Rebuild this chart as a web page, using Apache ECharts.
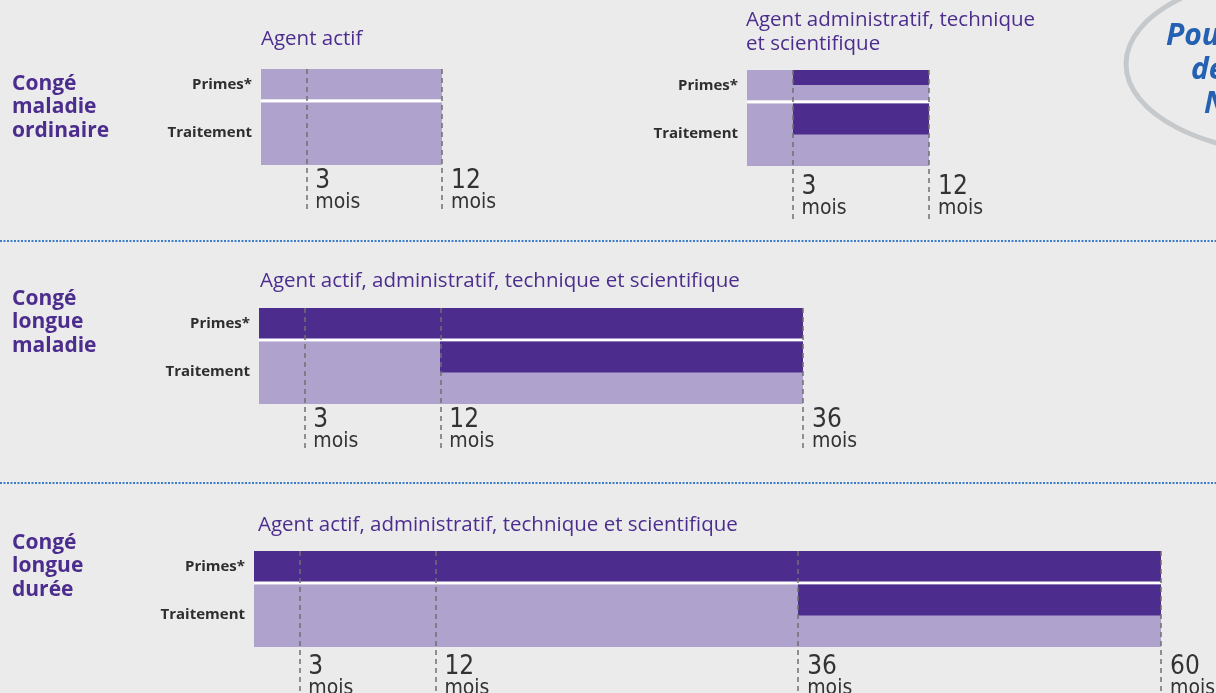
<!DOCTYPE html>
<html>
<head>
<meta charset="utf-8">
<script src="https://cdn.jsdelivr.net/npm/echarts@6/dist/echarts.min.js"></script>
<style>
  html, body { margin: 0; padding: 0; background: #ebebeb; }
  #chart { width: 1216px; height: 693px; }
</style>
</head>
<body>
<div id="chart"></div>
<script>
// Lignes de chaque bloc
const rowNames = ['Primes*', 'Traitement'];

// Segments : [ligne, début (mois), fin (mois), part foncée]
const cmoActifSegments = [[0, 0, 12, 0], [1, 0, 12, 0]];
const cmoAdminSegments = [[0, 0, 3, 0], [0, 3, 12, 0.5], [1, 0, 3, 0], [1, 3, 12, 0.5]];
const clmSegments = [[0, 0, 36, 1], [1, 0, 12, 0], [1, 12, 36, 0.5]];
const cldSegments = [[0, 0, 60, 1], [1, 0, 36, 0], [1, 36, 60, 0.5]];

// Graduations (mois)
const cmoTicks = [3, 12];
const clmTicks = [3, 12, 36];
const cldTicks = [3, 12, 36, 60];

// Durées maximales
const cmoMax = 12, clmMax = 36, cldMax = 60;

const PURPLE = '#4c2d8e';
const LIGHT = '#afa2cd';
const TEXT = '#2e2e2e';
const BG = '#ebebeb';
const NARROW = "'Liberation Sans Narrow', 'DejaVu Sans Condensed', sans-serif";

// hauteur des lignes en unités de l'axe y (primes 0-1, traitement 1-3)
const ROW_SPAN = [[0, 1], [1, 3]];
const UNIT = 32;   // px par unité
const GAP = 3;

const panels = [
  { grid: { left: 261, top: 69, width: 181, height: 144 }, max: cmoMax, ticks: cmoTicks, data: cmoActifSegments },
  { grid: { left: 747, top: 70, width: 182, height: 149 }, max: cmoMax, ticks: cmoTicks, data: cmoAdminSegments },
  { grid: { left: 259, top: 308, width: 544, height: 144 }, max: clmMax, ticks: clmTicks, data: clmSegments },
  { grid: { left: 254, top: 551, width: 907, height: 148 }, max: cldMax, ticks: cldTicks, data: cldSegments }
];

function renderSegment(params, api) {
  const row = api.value(0);
  const x0 = Math.round(api.coord([api.value(1), 0])[0]);
  const x1 = Math.round(api.coord([api.value(2), 0])[0]);
  const share = api.value(3);
  const span = ROW_SPAN[row];
  let yTop = api.coord([0, span[0]])[1];
  let yBot = api.coord([0, span[1]])[1];
  if (row === 0) yBot -= GAP / 2; else yTop += GAP / 2;
  const h = yBot - yTop;
  const children = [
    { type: 'rect', shape: { x: x0, y: yTop, width: x1 - x0, height: h }, style: { fill: LIGHT } }
  ];
  if (share > 0) {
    children.push({ type: 'rect', shape: { x: x0, y: yTop, width: x1 - x0, height: Math.round(h * share) }, style: { fill: PURPLE } });
  }
  if (row === 0) {
    children.push({ type: 'rect', shape: { x: x0, y: yBot, width: x1 - x0, height: GAP }, style: { fill: '#ffffff' } });
  }
  return { type: 'group', children: children };
}

function rowLabel(v) {
  for (let i = 0; i < ROW_SPAN.length; i++) {
    if (Math.abs((ROW_SPAN[i][0] + ROW_SPAN[i][1]) / 2 - v) < 0.01) return rowNames[i];
  }
  return '';
}

const chart = echarts.init(document.getElementById('chart'));

const option = {
  backgroundColor: BG,
  animation: false,
  title: [
    { text: 'Congé\nmaladie\nordinaire', left: 12, top: 72 },
    { text: 'Congé\nlongue\nmaladie', left: 12, top: 287 },
    { text: 'Congé\nlongue\ndurée', left: 12, top: 531 },
    { text: 'Agent actif', left: 261, top: 27, type: 'sub' },
    { text: 'Agent administratif, technique\net scientifique', left: 746, top: 8, type: 'sub' },
    { text: 'Agent actif, administratif, technique et scientifique', left: 260, top: 269, type: 'sub' },
    { text: 'Agent actif, administratif, technique et scientifique', left: 258, top: 513, type: 'sub' }
  ].map(t => ({
    text: t.text, left: t.left, top: t.top, padding: 0,
    textStyle: t.type === 'sub'
      ? { fontFamily: 'Open Sans', fontWeight: 'normal', fontSize: 20.5, lineHeight: 24, color: PURPLE }
      : { fontFamily: 'Open Sans', fontWeight: 'bold', fontSize: 21, lineHeight: 23.5, color: PURPLE }
  })),
  grid: panels.map(p => Object.assign({ outerBoundsMode: 'none', containLabel: false }, p.grid)),
  xAxis: panels.map((p, i) => ({
    type: 'value', gridIndex: i, min: 0, max: p.max,
    axisLine: { show: false }, axisTick: { show: false }, splitLine: { show: false },
    axisLabel: {
      inside: true, margin: -1, align: 'left', verticalAlign: 'bottom',
      customValues: p.ticks,
      formatter: v => '{n|' + v + '}\n{m|mois}',
      rich: {
        n: { fontFamily: NARROW, fontSize: 26, lineHeight: 20, color: '#333', padding: [0, 0, 0, 9] },
        m: { fontFamily: NARROW, fontSize: 21, lineHeight: 23, color: '#333', padding: [0, 0, 0, 9] }
      }
    }
  })),
  yAxis: panels.map((p, i) => ({
    type: 'value', gridIndex: i, inverse: true, min: 0, max: p.grid.height / UNIT,
    axisLine: { show: false }, axisTick: { show: false }, splitLine: { show: false },
    axisLabel: {
      customValues: ROW_SPAN.map(s => (s[0] + s[1]) / 2),
      formatter: rowLabel,
      margin: 9,
      fontFamily: 'Open Sans', fontWeight: 'bold', fontSize: 15, color: TEXT
    }
  })),
  series: panels.map((p, i) => ({
    type: 'custom', xAxisIndex: i, yAxisIndex: i,
    renderItem: renderSegment,
    data: p.data,
    markLine: {
      silent: true, symbol: 'none', label: { show: false },
      lineStyle: { color: '#707070', type: [5, 4], width: 1.5 },
      data: p.ticks.map(t => ({ xAxis: t }))
    }
  })),
  graphic: [
    { type: 'line', shape: { x1: 0, y1: 241, x2: 1216, y2: 241 }, style: { stroke: '#3d7cc9', lineWidth: 2, lineDash: [2, 1.5] } },
    { type: 'line', shape: { x1: 0, y1: 483, x2: 1216, y2: 483 }, style: { stroke: '#3d7cc9', lineWidth: 2, lineDash: [2, 1.5] } },
    { type: 'ellipse', shape: { cx: 1300, cy: 64, rx: 174, ry: 90 }, style: { fill: 'none', stroke: '#c5c9cc', lineWidth: 5 } },
    { type: 'text', left: 1166, top: 21, style: { text: 'Pou', font: 'italic bold 30px "Open Sans"', fill: '#2461b3' } },
    { type: 'text', left: 1191, top: 55, style: { text: 'de', font: 'italic bold 30px "Open Sans"', fill: '#2461b3' } },
    { type: 'text', left: 1204, top: 89, style: { text: 'N', font: 'italic bold 30px "Open Sans"', fill: '#2461b3' } }
  ]
};

chart.setOption(option);
window.onresize = function () { chart.resize(); };
</script>
</body>
</html>
